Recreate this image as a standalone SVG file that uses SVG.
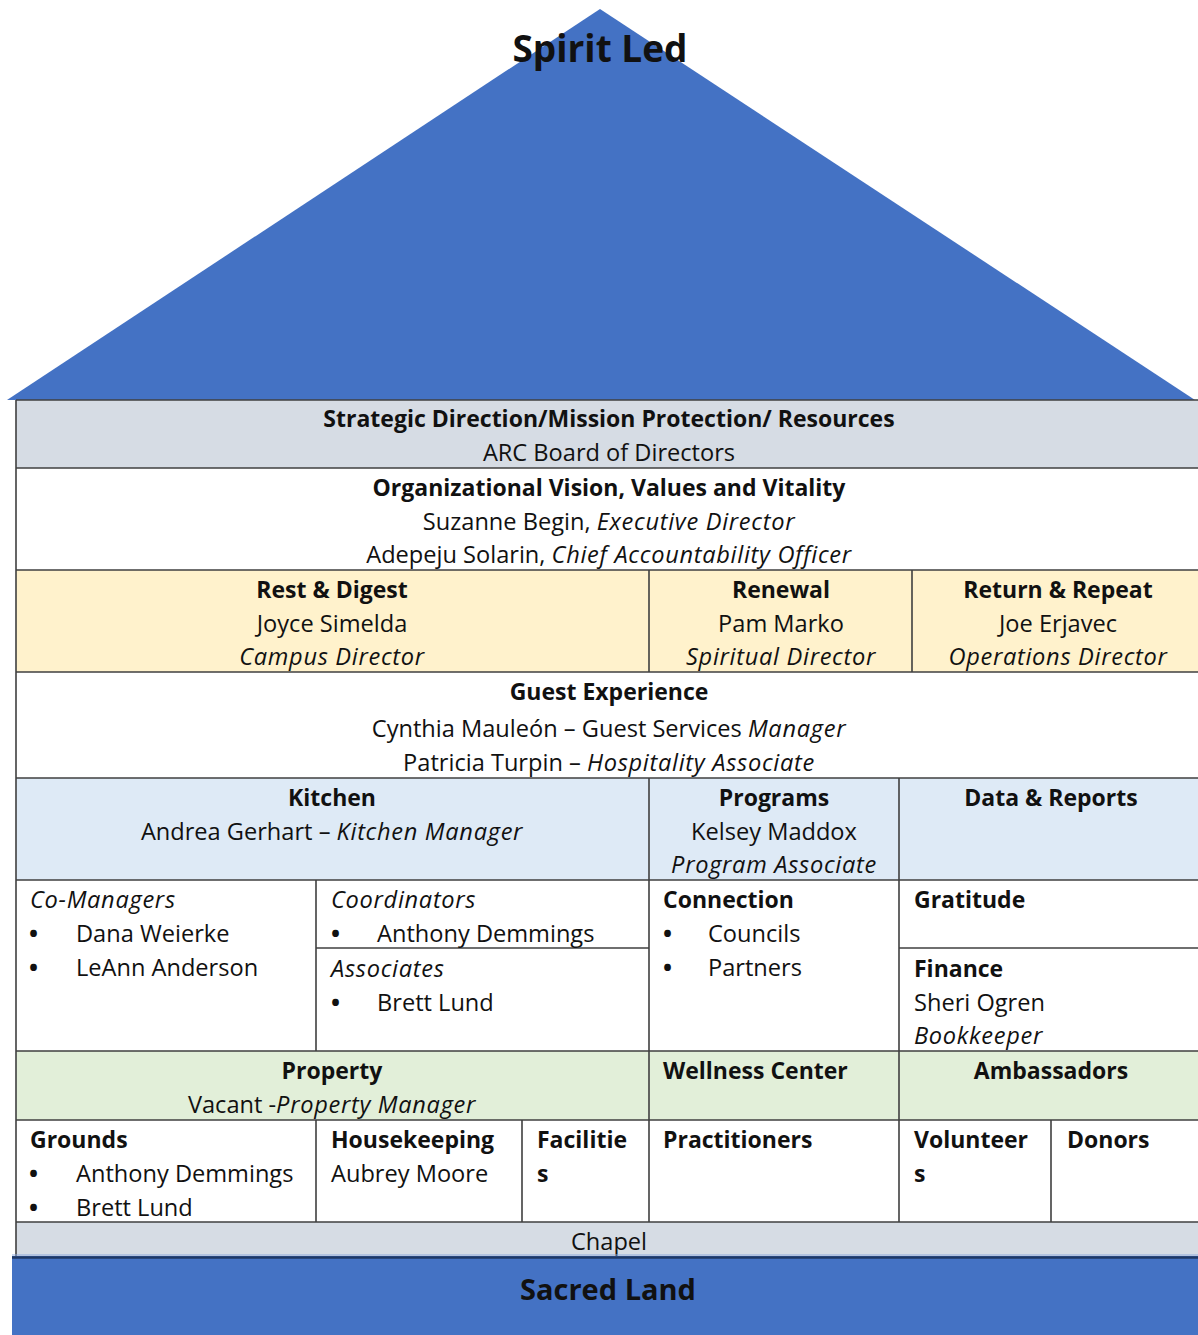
<svg xmlns="http://www.w3.org/2000/svg" width="1198" height="1335" viewBox="0 0 1198 1335">
<style>
text{font-family:"Open Sans","Noto Sans","Liberation Sans",sans-serif;font-size:23.6px;fill:#111}
.b{font-weight:bold;font-size:23px}
.i{font-style:italic;letter-spacing:0.7px}
.c{text-anchor:middle}
.u{font-size:24px;font-weight:bold}
.ln{stroke:#404040;stroke-width:1.6;fill:none}
.gray{fill:#D6DCE4}.yel{fill:#FFF2CC}.lb{fill:#DEEAF6}.gr{fill:#E2EFD9}.wh{fill:#fff}
</style>
<rect width="1198" height="1335" fill="#fff"/>
<g id="roof">
<polygon points="600,9 7,400 1195,400" fill="#4472C4"/>
<text x="600" y="62" class="b c" style="font-size:37px">Spirit Led</text>
</g>
<g id="fills">
<rect x="16" y="400" width="1182" height="68" class="gray"/>
<rect x="16" y="570" width="1182" height="102" class="yel"/>
<rect x="16" y="778" width="1182" height="102" class="lb"/>
<rect x="16" y="1051" width="1182" height="69" class="gr"/>
<rect x="16" y="1222" width="1182" height="34" class="gray"/>
</g>
<g id="grid">
<path class="ln" d="M16,400V1256 M16,400H1198 M16,468H1198 M16,570H1198 M16,672H1198 M16,778H1198 M16,880H1198 M16,1051H1198 M16,1120H1198 M16,1222H1198 M316,948H649 M899,948H1198
M649,570V672 M912,570V672 M649,778V1222 M899,778V1222 M316,880V1051 M316,1120V1222 M522,1120V1222 M1051,1120V1222"/>
</g>
<g id="board">
<text x="609" y="427" class="b c">Strategic Direction/Mission Protection/ Resources</text>
<text x="609" y="461" class="c">ARC Board of Directors</text>
</g>
<g id="vision">
<text x="609" y="496" class="b c">Organizational Vision, Values and Vitality</text>
<text x="609" y="530" class="c">Suzanne Begin, <tspan class="i">Executive Director</tspan></text>
<text x="609" y="563" class="c">Adepeju Solarin, <tspan class="i">Chief Accountability Officer</tspan></text>
</g>
<g id="rest">
<text x="332" y="598" class="b c">Rest &amp; Digest</text>
<text x="332" y="632" class="c">Joyce Simelda</text>
<text x="332" y="665" class="i c">Campus Director</text>
</g>
<g id="renewal">
<text x="781" y="598" class="b c">Renewal</text>
<text x="781" y="632" class="c">Pam Marko</text>
<text x="781" y="665" class="i c">Spiritual Director</text>
</g>
<g id="return">
<text x="1058" y="598" class="b c">Return &amp; Repeat</text>
<text x="1058" y="632" class="c">Joe Erjavec</text>
<text x="1058" y="665" class="i c">Operations Director</text>
</g>
<g id="guest">
<text x="609" y="700" class="b c">Guest Experience</text>
<text x="609" y="737" class="c">Cynthia Mauleón – Guest Services <tspan class="i">Manager</tspan></text>
<text x="609" y="771" class="c">Patricia Turpin – <tspan class="i">Hospitality Associate</tspan></text>
</g>
<g id="kitchen">
<text x="332" y="806" class="b c">Kitchen</text>
<text x="332" y="840" class="c">Andrea Gerhart – <tspan class="i">Kitchen Manager</tspan></text>
</g>
<g id="programs">
<text x="774" y="806" class="b c">Programs</text>
<text x="774" y="840" class="c">Kelsey Maddox</text>
<text x="774" y="873" class="i c">Program Associate</text>
</g>
<g id="data">
<text x="1051" y="806" class="b c">Data &amp; Reports</text>
</g>
<g id="comanagers">
<text x="30" y="908" class="i">Co-Managers</text>
<text x="29" y="942" class="u">•</text><text x="76" y="942">Dana Weierke</text>
<text x="29" y="976" class="u">•</text><text x="76" y="976">LeAnn Anderson</text>
</g>
<g id="coordinators">
<text x="331" y="908" class="i">Coordinators</text>
<text x="331" y="942" class="u">•</text><text x="377" y="942">Anthony Demmings</text>
</g>
<g id="associates">
<text x="331" y="977" class="i">Associates</text>
<text x="331" y="1011" class="u">•</text><text x="377" y="1011">Brett Lund</text>
</g>
<g id="connection">
<text x="663" y="908" class="b">Connection</text>
<text x="663" y="942" class="u">•</text><text x="708" y="942">Councils</text>
<text x="663" y="976" class="u">•</text><text x="708" y="976">Partners</text>
</g>
<g id="gratitude">
<text x="914" y="908" class="b">Gratitude</text>
</g>
<g id="finance">
<text x="914" y="977" class="b">Finance</text>
<text x="914" y="1011">Sheri Ogren</text>
<text x="914" y="1044" class="i">Bookkeeper</text>
</g>
<g id="property">
<text x="332" y="1113" class="c">Vacant -<tspan class="i">Property Manager</tspan></text>
<text x="332" y="1079" class="b c">Property</text>
</g>
<g id="wellness">
<text x="663" y="1079" class="b">Wellness Center</text>
</g>
<g id="ambassadors">
<text x="1051" y="1079" class="b c">Ambassadors</text>
</g>
<g id="grounds">
<text x="30" y="1148" class="b">Grounds</text>
<text x="29" y="1182" class="u">•</text><text x="76" y="1182">Anthony Demmings</text>
<text x="29" y="1216" class="u">•</text><text x="76" y="1216">Brett Lund</text>
</g>
<g id="housekeeping">
<text x="331" y="1148" class="b">Housekeeping</text>
<text x="331" y="1182">Aubrey Moore</text>
</g>
<g id="facilities">
<text x="537" y="1148" class="b">Facilitie</text>
<text x="537" y="1182" class="b">s</text>
</g>
<g id="practitioners">
<text x="663" y="1148" class="b">Practitioners</text>
</g>
<g id="volunteers">
<text x="914" y="1148" class="b">Volunteer</text>
<text x="914" y="1182" class="b">s</text>
</g>
<g id="donors">
<text x="1067" y="1148" class="b">Donors</text>
</g>
<g id="chapel">
<text x="609" y="1250" class="c">Chapel</text>
</g>
<g id="land">
<rect x="12" y="1256" width="1186" height="79" fill="#4472C4"/>
<path d="M12,1257.5H1198" stroke="#1F3864" stroke-width="2.5"/>
<path d="M12,1255H1198" stroke="#8FAADC" stroke-width="1"/>
<text x="608" y="1300" class="b c" style="font-size:29px">Sacred Land</text>
</g>
</svg>
